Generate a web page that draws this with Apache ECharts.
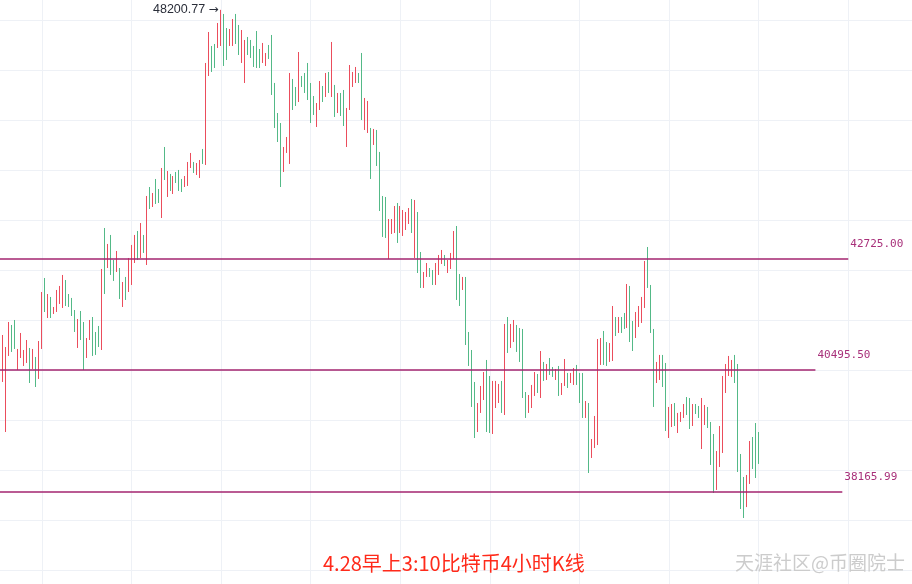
<!DOCTYPE html>
<html>
<head>
<meta charset="utf-8">
<script src="https://cdn.jsdelivr.net/npm/echarts@6.0.0/dist/echarts.min.js"></script>
<style>
html,body{margin:0;padding:0;background:#ffffff;}
#chart{width:912px;height:584px;}
</style>
</head>
<body>
<div id="chart"></div>
<script>
// 4h candles (index = bar number); extra empty slots on the right
const slotCount = 306;
const categories = Array.from({length: slotCount}, (_, i) => 'K' + i);

const openP = [
39580,40256,39293,40766,41382,41482,40490,40726,40569,40628,
40924,40510,40746,40315,40904,42334,41522,41947,41603,41643,
41805,41724,42293,42007,41927,41683,40924,41663,41442,40726,
41082,41542,41242,41362,40884,43371,42539,43225,42704,42457,
42539,41744,42355,42048,42191,42642,43308,42746,43225,42601,
44240,43814,44412,44197,43581,45105,44027,44520,44091,44563,
44606,44412,44240,44262,44649,44779,44498,44433,45062,44714,
46682,47365,47411,47319,47365,48105,47779,47365,47365,48105,
47849,46977,46524,47572,47503,47365,47710,47296,46977,46909,
47388,47618,46525,45853,45632,44563,44975,44736,46615,46434,
46098,46682,46750,46977,46524,46232,45544,45920,46457,46210,
46773,46210,46480,45853,46300,46367,45105,45920,46434,46524,
46750,47205,45478,45412,45522,45149,45478,44997,44048,44027,
42725,43245,43266,43899,43266,43204,43329,43455,43984,42746,
43708,42870,42130,42355,42539,42498,42191,42396,42622,42808,
42436,42519,42725,43413,42416,42089,42355,41242,40884,40256,
39293,39657,39906,40687,40373,39255,39752,39848,40276,39618,
41542,40924,41042,41382,41322,41302,40061,39657,39752,39984,
40412,39945,40648,40295,40726,40549,40295,40569,40003,40178,
40432,40236,40198,40589,40432,40432,39561,39848,38802,38990,
39046,40589,41262,41042,40648,40667,41542,41222,41542,41623,
41322,42171,41462,41122,41342,41422,41724,42974,42191,41302,
40236,40295,40786,40628,39179,39388,39848,39274,39484,39561,
39964,39945,39407,39829,39791,38971,39426,39772,39484,39255,
38206,38633,38896,40042,40373,40354,40786,40608,38877,38447,
37891,38317,39198,39464,39293
];

const closeP = [
40726,41182,40943,41442,40845,40904,40904,41222,40884,41082,
40236,40904,40158,41062,42048,41643,42007,41522,41744,42089,
42171,42396,41764,41744,41562,41242,41502,41082,40490,41122,
41482,40766,40786,40943,42519,42007,43037,42396,42273,42891,
41906,42252,41886,42746,43016,43225,42704,43476,42850,44048,
43771,44112,43878,43899,44649,44390,44584,44155,44476,44326,
44155,44133,44476,44779,44975,44541,44757,44822,44736,46977,
47687,46773,46863,47895,48200.77,46909,47045,47756,47988,47411,
47159,47733,47503,47159,47091,46886,46863,46863,47434,47205,
47068,46255,45522,45214,44240,45105,45324,46750,45920,46009,
47227,46434,46300,46143,45632,45809,46076,46569,46098,46750,
46300,47457,45765,46300,45787,45566,45965,46931,46773,46886,
46524,45698,46188,46121,44412,45500,44692,43729,43183,43162,
43560,43560,43835,43058,43835,43750,43708,43792,43266,43963,
42436,42130,42457,42642,42355,42191,42642,42808,42912,42580,
42704,42850,43308,41886,41764,42355,40983,40569,39772,39179,
39848,40178,40451,39293,39274,40276,40276,40217,39657,41402,
40825,41402,41482,40845,40648,39945,39561,40003,40198,40451,
40042,40864,40276,40608,40393,40354,40510,39984,40236,40706,
40139,40432,40529,40198,39848,39561,39887,38521,39160,39599,
41102,41122,40589,40569,41022,41764,41162,41542,41222,41302,
42211,41042,40864,41643,41764,41947,42684,42130,41222,39772,
40648,40786,40158,39312,39772,39829,39407,39657,39676,39829,
39618,39350,39829,39637,39561,39945,39810,39369,38671,38150,
38933,39407,40373,40608,40766,40687,40236,38540,37855,37691,
38484,39122,38596,38428,38690
];

// horizontal levels and where each drawn line stops (bar slot)
const levelValues = [42725.00, 40495.50, 38165.99];
const levelEndSlot = [284, 273, 282];
// trend line endpoints: [bar slot, price]
const trendStart = [32, 47204];
const trendEnd = [208, 36479];

const titleText = '4.28早上3:10比特币4小时K线';
const watermarkText = '天涯社区@币圈院士';

const candleData = openP.map((o, i) => {
  const c = closeP[i];
  return [o, c, Math.min(o, c), Math.max(o, c)];
});

const levelColor = '#a3256f';
const gridColor = '#eef1f6';

const levelLines = levelValues.map((v, k) => {
  const st = {
    coord: [0, v],
    lineStyle: {color: levelColor, width: 1.5, type: 'solid'},
    label: {
      show: true, position: 'end', distance: 2, offset: [0, -15],
      formatter: v.toFixed(2), color: '#a8307a',
      fontFamily: 'DejaVu Sans Mono', fontSize: 11
    }
  };
  return [st, {coord: [levelEndSlot[k], v]}];
});

const trendLine = [
  {coord: trendStart, lineStyle: {color: '#ee4a55', width: 1.2, type: 'solid'}, label: {show: false}},
  {coord: trendEnd}
];

const option = {
  animation: false,
  backgroundColor: '#ffffff',
  title: [
    {text: titleText, left: 323, top: 553, padding: 0,
     textStyle: {color: '#ff2a1a', fontSize: 20, fontWeight: 'normal', fontFamily: '"Noto Sans CJK SC"'}},
    {text: watermarkText, left: 735, top: 553, padding: 0,
     textStyle: {color: '#cccccc', fontSize: 19, fontWeight: 'normal', fontFamily: '"Noto Sans CJK SC"'}}
  ],
  grid: [
    {left: 0, right: 1, top: 0, bottom: 0},
    {left: 0, right: 0, top: 20, height: 550}
  ],
  xAxis: [
    {type: 'category', gridIndex: 0, data: categories, boundaryGap: false,
     axisLine: {show: false}, axisTick: {show: false}, axisLabel: {show: false},
     splitLine: {show: true, interval: (i) => i % 30 === 14, lineStyle: {color: gridColor, width: 1}}},
    {type: 'value', gridIndex: 1, min: 0, max: 1, show: false}
  ],
  yAxis: [
    {type: 'log', gridIndex: 0, min: 36506, max: 48431, show: false, splitLine: {show: false}},
    {type: 'value', gridIndex: 1, min: 0, max: 550, interval: 50,
     axisLine: {show: false}, axisTick: {show: false}, axisLabel: {show: false},
     splitLine: {show: true, lineStyle: {color: gridColor, width: 1}}}
  ],
  series: [{
    type: 'candlestick',
    xAxisIndex: 0, yAxisIndex: 0,
    data: candleData,
    barWidth: 1,
    clip: false,
    itemStyle: {color: '#eb4d5c', color0: '#53b987', borderColor: '#eb4d5c', borderColor0: '#53b987', borderWidth: 1},
    markLine: {
      silent: true, animation: false, symbol: ['none', 'none'],
      data: levelLines.concat([trendLine])
    },
    markPoint: {
      silent: true, animation: false, symbol: 'circle', symbolSize: 1,
      itemStyle: {color: 'rgba(0,0,0,0)'},
      label: {show: true, position: 'left', distance: 2,
        formatter: (p) => '{n|' + p.value.toFixed(2) + '} {a|→}',
        rich: {
          n: {color: '#2a2e39', fontSize: 12.5, fontFamily: 'Liberation Sans'},
          a: {color: '#2a2e39', fontSize: 12, fontFamily: 'DejaVu Sans'}
        }},
      data: [{type: 'max', valueDim: 'highest'}]
    }
  }]
};

const chart = echarts.init(document.getElementById('chart'), null, {renderer: 'canvas'});
chart.setOption(option);
</script>
</body>
</html>
